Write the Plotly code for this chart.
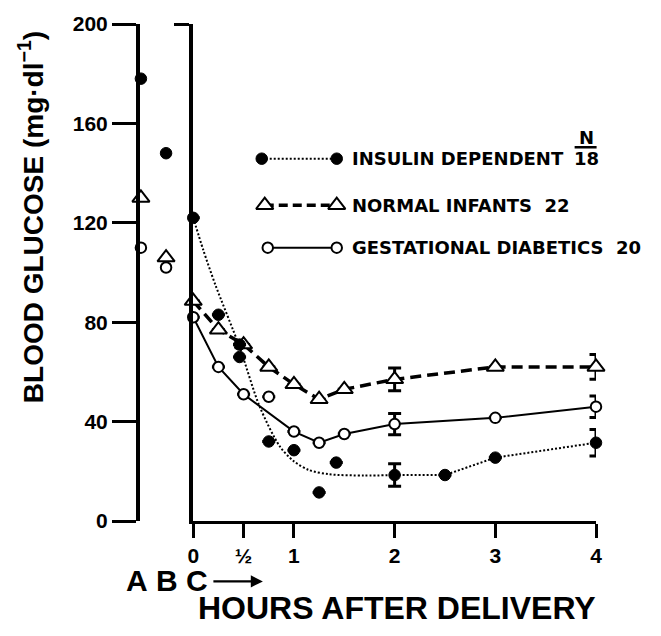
import plotly.graph_objects as go

# ---------------- data ----------------
pre_labels = ["A", "B"]
pre_hours = [-0.52, -0.27]                 # positions of the A and B samples
idm_pre = [178, 148]                       # insulin dependent
norm_pre = [130, 106]                      # normal infants
gd_pre = [110, 102]                        # gestational diabetics
c_label = "C"

hours = [0, 0.25, 0.5, 0.75, 1, 1.25, 1.5, 2, 3, 4]
norm_vals = [88.5, 77, 71, 62, 55, 49, 53, 57, 62, 62]
norm_err = [None, None, None, None, None, None, None, 4.6, None, 5.0]
gd_vals = [82, 62, 51, 50, 36, 31.5, 35, 39, 41.5, 46]
gd_err = [None, None, None, None, None, None, None, 4.3, None, 4.3]
gd_off_line = [0.75]                       # point not joined by the fitted line

idm_hours = [0, 0.25, 0.46, 0.46, 0.75, 1, 1.25, 1.42, 2, 2.5, 3, 4]
idm_vals = [122, 83, 71, 66, 32, 28.5, 11.5, 23.5, 18.5, 18.5, 25.5, 31.5]
idm_err = [None, None, None, None, None, None, None, None, 4.5, None, None, 5.3]
# dotted hand-drawn curve for insulin dependent (0 - 2 h)
idm_curve_hours = [0, 0.1, 0.22, 0.46, 0.66, 0.86, 1.0, 1.15, 1.35, 1.7, 2.0]
idm_curve_vals = [122, 109, 95, 70, 46, 30, 24, 20.5, 18.8, 18.3, 18.5]

series_names = ["INSULIN DEPENDENT", "NORMAL INFANTS", "GESTATIONAL DIABETICS"]
series_n = [18, 22, 20]

y_ticks = [0, 40, 80, 120, 160, 200]
hour_ticks = [0, 0.5, 1, 2, 3, 4]
hour_tick_labels = ["0", "½", "1", "2", "3", "4"]

# ---------------- layout geometry ----------------
W, H = 661, 636
LEFT, RIGHT, TOP, BOTTOM = 140, 596.4, 19, 521
PW, PH = RIGHT - LEFT, BOTTOM - TOP
x2_start = (193.3 - LEFT) / PW


def px_x(x):
    return (x - LEFT) / PW


def px_y(y):
    return (BOTTOM - y) / PH


FONT = "Liberation Sans"
LFONT = "DejaVu Sans"
BLACK = "black"

DOT = dict(symbol="circle", size=11.5, color=BLACK, line=dict(color=BLACK, width=1))
OCIRC = dict(symbol="circle", size=10.5, color="white", line=dict(color=BLACK, width=2))
TRI = dict(symbol="triangle-up", size=15, color="white", line=dict(color=BLACK, width=2))
ERR = dict(thickness=3, width=6.5, color=BLACK)

fig = go.Figure()

# ---- lines ----
fig.add_trace(go.Scatter(
    x=idm_curve_hours, y=idm_curve_vals, xaxis="x2", yaxis="y", mode="lines",
    line=dict(color=BLACK, width=2, dash="2px,2px", shape="spline", smoothing=0.8),
    hoverinfo="skip", showlegend=False))
tail = [(h, v) for h, v in zip(idm_hours, idm_vals) if h >= 2]
fig.add_trace(go.Scatter(
    x=[t[0] for t in tail], y=[t[1] for t in tail], xaxis="x2", yaxis="y", mode="lines",
    line=dict(color=BLACK, width=2, dash="2px,2px"), hoverinfo="skip", showlegend=False))

fig.add_trace(go.Scatter(
    x=hours, y=norm_vals, xaxis="x2", yaxis="y", mode="lines",
    line=dict(color=BLACK, width=3.5, dash="11px,6px"), showlegend=False))

gd_line = [(h, v) for h, v in zip(hours, gd_vals) if h not in gd_off_line]
fig.add_trace(go.Scatter(
    x=[p[0] for p in gd_line], y=[p[1] for p in gd_line], xaxis="x2", yaxis="y",
    mode="lines", line=dict(color=BLACK, width=2), showlegend=False))

# ---- markers ----
fig.add_trace(go.Scatter(
    x=hours, y=norm_vals, xaxis="x2", yaxis="y", mode="markers", marker=TRI,
    error_y=dict(type="data", array=norm_err, visible=True, **ERR),
    cliponaxis=False, showlegend=False))
fig.add_trace(go.Scatter(
    x=hours, y=gd_vals, xaxis="x2", yaxis="y", mode="markers", marker=OCIRC,
    error_y=dict(type="data", array=gd_err, visible=True, **ERR),
    cliponaxis=False, showlegend=False))
fig.add_trace(go.Scatter(
    x=idm_hours, y=idm_vals, xaxis="x2", yaxis="y", mode="markers", marker=DOT,
    error_y=dict(type="data", array=idm_err, visible=True, **ERR),
    cliponaxis=False, showlegend=False))

# pre-delivery samples A, B
fig.add_trace(go.Scatter(x=pre_hours, y=norm_pre, xaxis="x", yaxis="y", mode="markers",
                         marker=TRI, cliponaxis=False, showlegend=False))
fig.add_trace(go.Scatter(x=pre_hours, y=gd_pre, xaxis="x", yaxis="y", mode="markers",
                         marker=OCIRC, cliponaxis=False, showlegend=False))
fig.add_trace(go.Scatter(x=pre_hours, y=idm_pre, xaxis="x", yaxis="y", mode="markers",
                         marker=DOT, cliponaxis=False, showlegend=False))

# ---- hand-made key ----
key_rows_y = [145.8, 127.1, 110.0]
key_x0 = [0.68, 0.71, 0.74]
key_x1 = 1.425
key_text_x = 1.555
key_styles = [
    (DOT, dict(color=BLACK, width=2, dash="2px,2px")),
    (TRI, dict(color=BLACK, width=3.5, dash="9px,5px")),
    (OCIRC, dict(color=BLACK, width=2)),
]
for (mk, ln), ky, kx in zip(key_styles, key_rows_y, key_x0):
    fig.add_trace(go.Scatter(x=[kx, key_x1], y=[ky, ky], xaxis="x2", yaxis="y2",
                             mode="lines+markers", marker=mk, line=ln,
                             cliponaxis=False, showlegend=False, hoverinfo="skip"))

annotations = []
key_labels = [series_names[0],
              f"{series_names[1]}  {series_n[1]}",
              f"{series_names[2]}  {series_n[2]}"]
for lab, ky in zip(key_labels, key_rows_y):
    annotations.append(dict(x=key_text_x, y=ky, xref="x2", yref="y", text=lab,
                            showarrow=False, xanchor="left", yanchor="middle",
                            font=dict(family=LFONT, size=18, weight=700, color=BLACK)))
annotations.append(dict(x=px_x(587), y=key_rows_y[0], xref="paper", yref="y",
                        text=str(series_n[0]), showarrow=False, xanchor="center",
                        yanchor="middle",
                        font=dict(family=LFONT, size=18, weight=700, color=BLACK)))
annotations.append(dict(x=px_x(587), y=px_y(134), xref="paper", yref="paper",
                        text="N", showarrow=False, xanchor="center", yanchor="middle",
                        font=dict(family=LFONT, size=18, weight=700, color=BLACK)))

# axis titles
annotations.append(dict(x=px_x(31), y=px_y(214), xref="paper", yref="paper",
                        text="BLOOD GLUCOSE (mg·dl<sup>−1</sup>)", textangle=-90,
                        showarrow=False, xanchor="center", yanchor="middle",
                        font=dict(family=FONT, size=28, weight=700, color=BLACK)))
annotations.append(dict(x=px_x(397), y=px_y(609), xref="paper", yref="paper",
                        text="HOURS AFTER DELIVERY", showarrow=False,
                        xanchor="center", yanchor="middle",
                        font=dict(family=FONT, size=32, weight=700, color=BLACK)))

# A B C labels
abc_shift = [-4, 1, 4]
for lab, hx, sh in zip(pre_labels, pre_hours, abc_shift[:2]):
    annotations.append(dict(x=hx, y=px_y(581), xref="x", yref="paper", text=lab,
                            showarrow=False, xanchor="center", yanchor="middle", xshift=sh,
                            font=dict(family=FONT, size=30, weight=700, color=BLACK)))
annotations.append(dict(x=0, y=px_y(581), xref="x2", yref="paper", text=c_label,
                        showarrow=False, xanchor="center", yanchor="middle",
                        xshift=abc_shift[2],
                        font=dict(family=FONT, size=30, weight=700, color=BLACK)))
annotations.append(dict(x=px_x(263), y=px_y(582), xref="paper", yref="paper", text="",
                        showarrow=True, ax=-51, ay=0, axref="pixel", ayref="pixel",
                        arrowhead=2, arrowsize=1.1, arrowwidth=2.2, arrowcolor=BLACK))

shapes = [dict(type="line", xref="paper", yref="paper",
               x0=px_x(575), x1=px_x(597), y0=px_y(143.5), y1=px_y(143.5),
               line=dict(color=BLACK, width=2.5))]

tickfont = dict(family=FONT, size=21, weight=700, color=BLACK)

fig.update_layout(
    width=W, height=H,
    margin=dict(l=LEFT, r=W - RIGHT, t=TOP, b=H - BOTTOM, pad=0),
    paper_bgcolor="white", plot_bgcolor="white",
    showlegend=False,
    xaxis=dict(domain=[0, x2_start], range=[-0.529, 0], visible=False,
               showgrid=False, zeroline=False),
    xaxis2=dict(domain=[x2_start, 1], range=[0, 4], anchor="y",
                showline=True, linewidth=3, linecolor=BLACK,
                ticks="outside", ticklen=14, tickwidth=3, tickcolor=BLACK,
                tickvals=hour_ticks, ticktext=hour_tick_labels, tickfont=tickfont,
                showgrid=False, zeroline=False),
    yaxis=dict(range=[0, 200], anchor="x", showline=True, linewidth=4, linecolor=BLACK,
               ticks="outside", ticklen=24, tickwidth=3, tickcolor=BLACK,
               tickvals=y_ticks, tickfont=tickfont, showgrid=False, zeroline=False),
    yaxis2=dict(range=[0, 200], overlaying="y", anchor="x2", side="left",
                showline=True, linewidth=4, linecolor=BLACK,
                ticks="outside", ticklen=15, tickwidth=3, tickcolor=BLACK,
                tickvals=[200], showticklabels=False, showgrid=False, zeroline=False),
    annotations=annotations,
    shapes=shapes,
)

fig.write_html("out.html", config={"displayModeBar": False},
               post_script="document.body.style.margin='0';document.body.style.overflow='hidden';")
